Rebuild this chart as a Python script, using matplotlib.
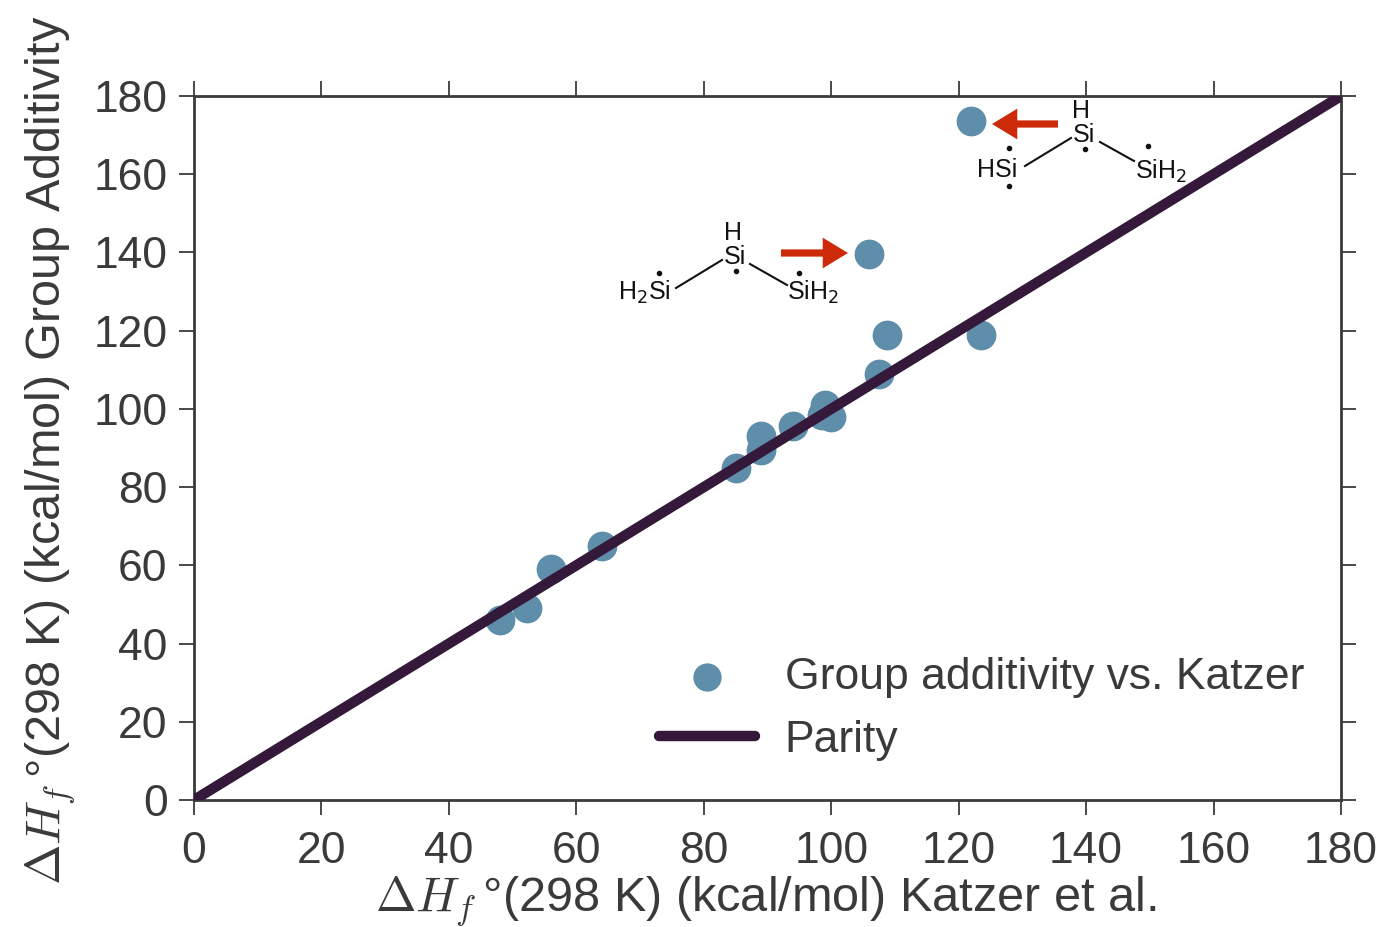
import matplotlib
matplotlib.use("Agg")
import matplotlib.pyplot as plt
from matplotlib.patches import FancyArrowPatch

katzer = [48, 52.3, 56, 64, 85, 89, 89, 94, 98.5, 99, 100, 107.5, 108.7, 123.5, 106, 122]
group_add = [46, 49, 59, 65, 85, 89.5, 93, 95.5, 98.5, 101, 98, 109, 119, 119, 139.5, 173.5]
parity = [0, 180]
ticks = list(range(0, 181, 20))

W, H = 1384, 927
DARK = "#3a3a3a"
BLUE = "#5f8eaa"
PLUM = "#35193a"
RED = "#cc2a08"

plt.rcParams["font.family"] = ["Liberation Sans", "DejaVu Sans"]
plt.rcParams["mathtext.fontset"] = "cm"

fig = plt.figure(figsize=(W / 100, H / 100), dpi=100)
ax = fig.add_axes([194 / W, 1 - 800 / H, (1341 - 194) / W, (800 - 96) / H])

sc = ax.scatter(katzer, group_add, s=460, c=BLUE, linewidths=0,
                label="Group additivity vs. Katzer", zorder=2, clip_on=False)
ln, = ax.plot(parity, parity, color=PLUM, lw=7.5, label="Parity", zorder=3,
              solid_capstyle="round")

ax.set_xlim(0, 180)
ax.set_ylim(0, 180)
ax.set_xticks(ticks)
ax.set_yticks(ticks)
ax.tick_params(which="both", top=True, right=True, length=11, width=1.3,
               color=DARK, labelcolor=DARK, labelsize=32, pad=8)
ax.tick_params(axis="x", pad=11)
for sp in ax.spines.values():
    sp.set_color(DARK)
    sp.set_linewidth(2)

label = r"$\Delta H_f\,$°(298 K) (kcal/mol) "
fig.text(766 / W, 1 - 901 / H, label + "Katzer et al.", fontsize=35, color=DARK,
         ha="center", va="center")
fig.text(50 / W, 1 - 450 / H, label + "Group Additivity", fontsize=35, color=DARK,
         ha="center", va="center", rotation=90)

ax.legend(handles=[sc, ln], loc="lower left", bbox_to_anchor=(659 / W, 1 - 761 / H),
          bbox_transform=fig.transFigure, frameon=False, fontsize=32,
          labelcolor=DARK, handlelength=2.15, handletextpad=0.68, labelspacing=0.5,
          borderpad=0, borderaxespad=0, scatterpoints=1, markerscale=0.95)


def px(x, y):
    return (x / W, 1 - y / H)


def mol_text(x, y, s):
    fig.text(*px(x, y), s, fontsize=18, color="#111111", ha="center", va="center",
             math_fontfamily="dejavusans")


def bond(x0, y0, x1, y1):
    fig.add_artist(plt.Line2D(*zip(px(x0, y0), px(x1, y1)), color="#111111", lw=1.5))


def radical(x, y):
    fig.add_artist(plt.Line2D([px(x, y)[0]], [px(x, y)[1]], marker="o", ms=3,
                              color="#111111", lw=0))


def arrow(x0, y0, x1, y1):
    fig.add_artist(FancyArrowPatch(
        px(x0, y0), px(x1, y1), transform=fig.transFigure,
        arrowstyle="simple,head_length=14,head_width=17,tail_width=4",
        mutation_scale=1.3, color=RED, lw=0, shrinkA=0, shrinkB=0))


# lower structure
mol_text(733, 233, "H")
mol_text(735, 257, "Si")
mol_text(644, 292, r"H$_2$Si")
mol_text(813, 292, r"SiH$_2$")
bond(676, 288, 722, 260)
bond(750, 264, 787, 285)
for p in [(659, 273), (736, 271), (799, 273)]:
    radical(*p)
arrow(781, 253, 848, 253)

# upper structure
mol_text(1081, 111, "H")
mol_text(1084, 135, "Si")
mol_text(997, 170, "HSi")
mol_text(1161, 171, r"SiH$_2$")
bond(1025, 166, 1071, 138)
bond(1100, 142, 1134, 161)
for p in [(1009, 148), (1085, 149), (1148, 146), (1009, 186)]:
    radical(*p)
arrow(1058, 124, 992, 124)

fig.savefig("out.png", dpi=100)
